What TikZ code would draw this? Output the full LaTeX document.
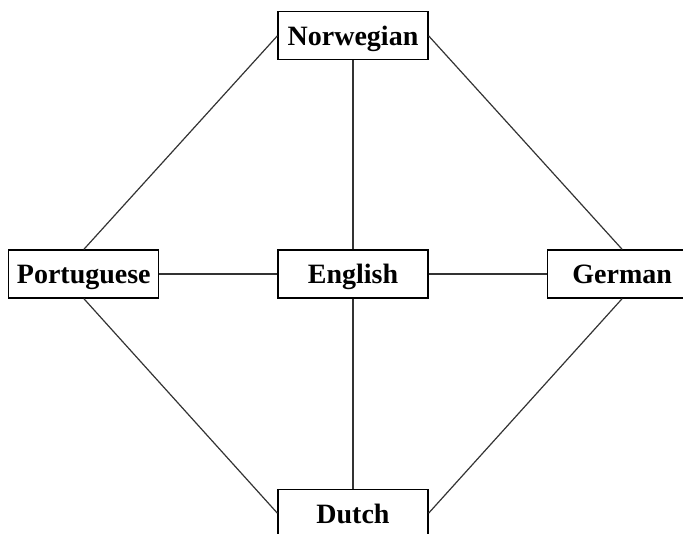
\documentclass[tikz,border=0pt]{standalone}
\usepackage{fontspec}
\setmainfont{Liberation Serif}
\usetikzlibrary{positioning}

\begin{document}
\begin{tikzpicture}[
    every node/.style={align=center},
    lang/.style={draw, line width=1.2pt, minimum width=150pt, minimum height=48pt,
        inner sep=0pt, text height=23pt, text depth=3pt,
        font=\fontsize{28}{30}\selectfont\bfseries},
    link/.style={line width=1.2pt, black!80}
]

% Rahmen
\clip (0pt,0pt) rectangle (683pt,-534pt);

% Mitte: English
\node[lang] (eng) at (353pt,-274pt) {English};

% Oben: Norwegian
\node[lang, above=189pt of eng] (nor) {Norwegian};

% Links: Portuguese
\node[lang, left=118pt of eng] (por) {Portuguese};

% Rechts: German
\node[lang, right=118pt of eng] (ger) {German};

% Unten: Dutch
\node[lang, below=190pt of eng] (dut) {Dutch};

\draw[link] (nor) -- (eng);
\draw[link] (eng) -- (dut);
\draw[link] (por) -- (eng);
\draw[link] (eng) -- (ger);
\draw[link] (nor.west) -- (por.north);
\draw[link] (nor.east) -- (ger.north);
\draw[link] (por.south) -- (dut.west);
\draw[link] (dut.east) -- (ger.south);

\end{tikzpicture}
\end{document}
